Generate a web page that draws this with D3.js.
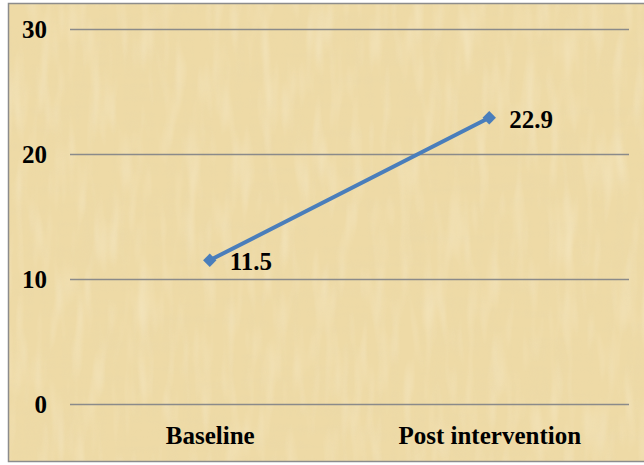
<!DOCTYPE html>
<html>
<head>
<meta charset="utf-8">
<script src="https://cdn.jsdelivr.net/npm/d3@7"></script>
<style>
  html, body { margin: 0; padding: 0; background: #ffffff; }
  svg { display: block; }
  svg text { font-family: "Liberation Serif", "Times New Roman", serif; font-weight: bold; }
</style>
</head>
<body>
<svg id="chart" width="644" height="465"></svg>
<script>
// Chart data
const categories = ["Baseline", "Post intervention"];
const values = [11.5, 22.9];
const yTicks = [0, 10, 20, 30];

const frame = { x: 8, y: 3, w: 650, h: 459 };
const plot = { left: 70, right: 629, top: 29, bottom: 404 };
const FONT = "Liberation Serif, Times New Roman, serif";
const FS = 25;

const svg = d3.select("#chart");
const defs = svg.append("defs");

// Papyrus-like fibre texture: stretched turbulence in two directions
const f = defs.append("filter").attr("id", "papyrus")
  .attr("x", 0).attr("y", 0).attr("width", 1).attr("height", 1);
f.append("feTurbulence").attr("type", "fractalNoise")
  .attr("baseFrequency", "0.12 0.01").attr("numOctaves", 3).attr("seed", 3).attr("result", "v");
f.append("feTurbulence").attr("type", "fractalNoise")
  .attr("baseFrequency", "0.01 0.12").attr("numOctaves", 3).attr("seed", 7).attr("result", "h");
f.append("feComposite").attr("in", "v").attr("in2", "h").attr("operator", "arithmetic")
  .attr("k1", 0).attr("k2", 0.5).attr("k3", 0.5).attr("k4", 0).attr("result", "n");
f.append("feColorMatrix").attr("in", "n").attr("type", "matrix")
  .attr("values", "0 0 0 0 0.80  0 0 0 0 0.68  0 0 0 0 0.40  -1.6 0 0 0 0.95")
  .attr("result", "tint");
f.append("feComposite").attr("in", "tint").attr("in2", "SourceGraphic").attr("operator", "in");

const f2 = defs.append("filter").attr("id", "papyrusLight")
  .attr("x", 0).attr("y", 0).attr("width", 1).attr("height", 1);
f2.append("feTurbulence").attr("type", "fractalNoise")
  .attr("baseFrequency", "0.08 0.015").attr("numOctaves", 2).attr("seed", 11).attr("result", "v");
f2.append("feColorMatrix").attr("in", "v").attr("type", "matrix")
  .attr("values", "0 0 0 0 0.98  0 0 0 0 0.93  0 0 0 0 0.78  1.6 0 0 0 -0.75")
  .attr("result", "tint");
f2.append("feComposite").attr("in", "tint").attr("in2", "SourceGraphic").attr("operator", "in");

// Frame background
svg.append("rect")
  .attr("x", frame.x).attr("y", frame.y).attr("width", frame.w).attr("height", frame.h)
  .attr("fill", "#eedaa6");
svg.append("rect")
  .attr("x", frame.x).attr("y", frame.y).attr("width", frame.w).attr("height", frame.h)
  .attr("fill", "#eedaa6").attr("filter", "url(#papyrus)").attr("opacity", 0.45);
svg.append("rect")
  .attr("x", frame.x).attr("y", frame.y).attr("width", frame.w).attr("height", frame.h)
  .attr("fill", "#eedaa6").attr("filter", "url(#papyrusLight)").attr("opacity", 0.4);
svg.append("rect")
  .attr("x", frame.x + 0.5).attr("y", frame.y + 0.5).attr("width", frame.w).attr("height", frame.h - 1)
  .attr("fill", "none").attr("stroke", "#8c8c8c").attr("stroke-width", 1.5);

// Scales
const x = d3.scalePoint().domain(categories)
  .range([plot.left, plot.right]).padding(0.5);
const y = d3.scaleLinear().domain([0, 30]).range([plot.bottom, plot.top]);

// Gridlines
svg.append("g").selectAll("line").data(yTicks).join("line")
  .attr("x1", plot.left).attr("x2", plot.right)
  .attr("y1", d => y(d) + 0.5).attr("y2", d => y(d) + 0.5)
  .attr("stroke", "#8a8a8a").attr("stroke-width", 1.5);

// Y axis labels
const yAxis = d3.axisLeft(y).tickValues(yTicks).tickSize(0).tickPadding(0).tickFormat(d3.format("d"));
const gy = svg.append("g").attr("transform", `translate(47,0)`).call(yAxis)
  .attr("font-family", FONT).attr("font-size", FS);
gy.select(".domain").remove();
gy.selectAll("text")
  .attr("font-weight", "bold").attr("fill", "#000")
  .attr("dy", "0.33em");

// X axis labels
const xAxis = d3.axisBottom(x).tickSize(0).tickPadding(0);
const gx = svg.append("g").attr("transform", `translate(0,${plot.bottom})`).call(xAxis)
  .attr("font-family", FONT).attr("font-size", FS);
gx.select(".domain").remove();
gx.selectAll("text")
  .attr("font-weight", "bold").attr("fill", "#000")
  .attr("dy", null).attr("y", 40);

// Line
const pts = categories.map((c, i) => ({ c, v: values[i] }));
svg.append("path").datum(pts)
  .attr("d", d3.line().x(d => x(d.c)).y(d => y(d.v)))
  .attr("fill", "none").attr("stroke", "#4a7ebb").attr("stroke-width", 4)
  .attr("stroke-linecap", "round");

// Diamond markers
svg.append("g").selectAll("path").data(pts).join("path")
  .attr("d", d3.symbol(d3.symbolSquare, 90)())
  .attr("transform", d => `translate(${x(d.c)},${y(d.v)}) rotate(45)`)
  .attr("fill", "#4a7ebb");

// Value labels
svg.append("g").attr("font-family", FONT).attr("font-size", FS)
  .selectAll("text").data(pts).join("text")
  .attr("x", d => x(d.c) + 20).attr("y", d => y(d.v) + 10)
  .attr("font-weight", "bold").attr("fill", "#000")
  .text(d => d.v.toFixed(1));
</script>
</body>
</html>
